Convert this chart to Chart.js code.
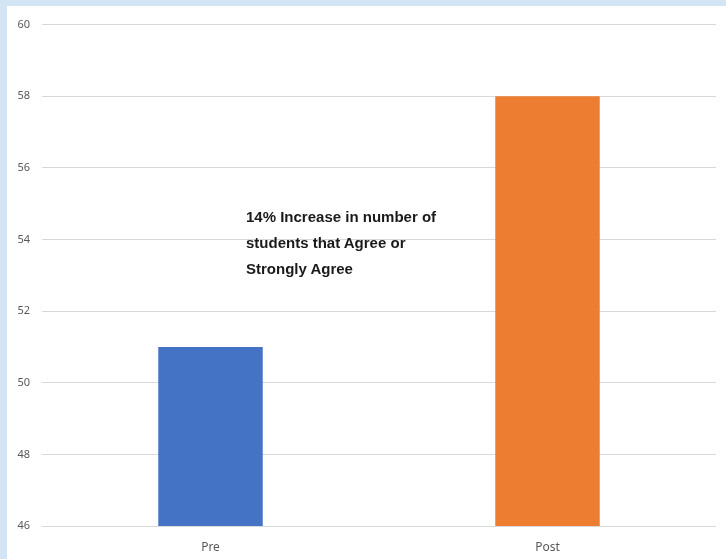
<!DOCTYPE html>
<html>
<head>
<meta charset="utf-8">
<script src="https://cdn.jsdelivr.net/npm/chart.js@4/dist/chart.umd.min.js"></script>
<style>
    html, body { margin: 0; padding: 0; }
    body { width: 726px; height: 559px; background: #d3e5f5; overflow: hidden; position: relative; }
    #frame { position: absolute; left: 7px; top: 6px; width: 719px; height: 553px; background: #ffffff; }
    #note {
        position: absolute; left: 239px; top: 198px;
        font-family: "Liberation Sans", Arial, sans-serif; font-weight: bold;
        font-size: 15px; line-height: 26px; color: #1a1a1a;
    }
</style>
</head>
<body>
<div id="frame">
    <canvas id="chart" width="719" height="553"></canvas>
    <div id="note">14% Increase in number of<br>students that Agree or<br>Strongly Agree</div>
</div>
<script>
const categories = ['Pre', 'Post'];
const values = [51, 58];
const barColors = ['#4472c4', '#ed7d31'];
const yMin = 46;
const yMax = 60;
const yStep = 2;

const ctx = document.getElementById('chart').getContext('2d');

new Chart(ctx, {
    type: 'bar',
    data: {
        labels: categories,
        datasets: [{
            data: values,
            backgroundColor: barColors,
            borderWidth: 0,
            barPercentage: 0.31,
            categoryPercentage: 1
        }]
    },
    options: {
        responsive: false,
        animation: false,
        layout: {
            padding: { top: 17, right: 10, left: 0, bottom: 0 }
        },
        plugins: {
            legend: { display: false },
            tooltip: { enabled: false }
        },
        scales: {
            x: {
                grid: { display: false },
                border: { display: false },
                ticks: {
                    color: '#595959',
                    padding: 6,
                    font: { family: 'Noto Sans', size: 12 }
                },
                afterFit: scale => { scale.height = 33; }
            },
            y: {
                min: yMin,
                max: yMax,
                grid: { color: '#d9d9d9', lineWidth: 1, drawTicks: false },
                border: { display: false },
                ticks: {
                    stepSize: yStep,
                    color: '#595959',
                    padding: 12,
                    font: { family: 'Noto Sans', size: 11 }
                },
                afterFit: scale => { scale.width = 35; }
            }
        }
    }
});
</script>
</body>
</html>
